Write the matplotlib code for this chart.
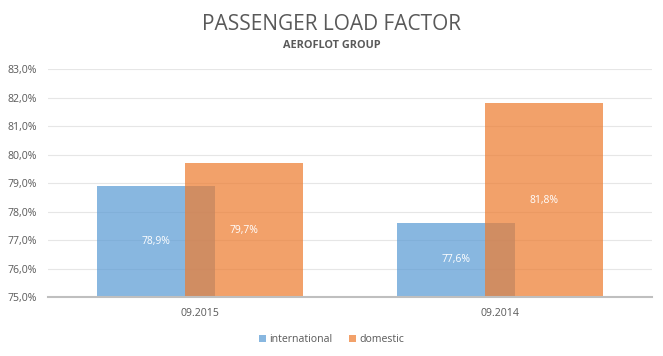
import matplotlib.pyplot as plt
import numpy as np

categories = ['09.2015', '09.2014']
international = [78.9, 77.6]
domestic = [79.7, 81.8]
series_names = ['international', 'domestic']

plt.rcParams['font.family'] = ['Open Sans', 'DejaVu Sans']

fig = plt.figure(figsize=(6.63, 3.56), dpi=100)
ax = fig.add_axes([0.0724, 0.1657, 0.9106, 0.6403])

x = np.arange(len(categories))
width = 0.393
offset = 0.147
base = 75.0

b1 = ax.bar(x - offset, np.array(international) - base, width, bottom=base,
            color='#5B9BD5', alpha=0.72, label=series_names[0], zorder=2)
b2 = ax.bar(x + offset, np.array(domestic) - base, width, bottom=base,
            color='#ED7D31', alpha=0.72, label=series_names[1], zorder=3)

for xi, v in zip(x - offset, international):
    ax.text(xi, (base + v) / 2, f'{v:.1f}%'.replace('.', ','), ha='center', va='center',
            color='white', fontsize=7.5, zorder=5)
for xi, v in zip(x + offset, domestic):
    ax.text(xi, (base + v) / 2, f'{v:.1f}%'.replace('.', ','), ha='center', va='center',
            color='white', fontsize=7.5, zorder=5)

ax.set_ylim(75, 83)
ax.set_xlim(-0.507, 1.507)
ax.set_yticks(np.arange(75, 83.5, 1))
ax.set_yticklabels([f'{t:.1f}%'.replace('.', ',') for t in np.arange(75, 83.5, 1)])
ax.set_xticks(x)
ax.set_xticklabels(categories)
ax.tick_params(axis='both', length=0, labelsize=7.6, labelcolor='#595959')
ax.tick_params(axis='y', pad=8)
ax.tick_params(axis='x', pad=8)

ax.grid(axis='y', color='#E6E6E6', linewidth=0.8, zorder=0)
ax.set_axisbelow(True)
for s in ['top', 'right', 'left']:
    ax.spines[s].set_visible(False)
ax.spines['bottom'].set_color('#BFBFBF')
ax.spines['bottom'].set_linewidth(1.5)
ax.spines['bottom'].set_zorder(4)

fig.text(0.5, 0.932, 'PASSENGER LOAD FACTOR', ha='center', va='center',
         fontsize=15, color='#595959')
fig.text(0.5, 0.871, 'AEROFLOT GROUP', ha='center', va='center',
         fontsize=7.8, color='#595959', fontweight='bold')

fig.legend(loc='center', bbox_to_anchor=(0.5, 0.045), ncol=2, frameon=False,
           fontsize=7.6, labelcolor='#595959', handlelength=0.7, handleheight=0.7,
           handletextpad=0.3, columnspacing=1.5)

fig.savefig('out.png', dpi=100)
